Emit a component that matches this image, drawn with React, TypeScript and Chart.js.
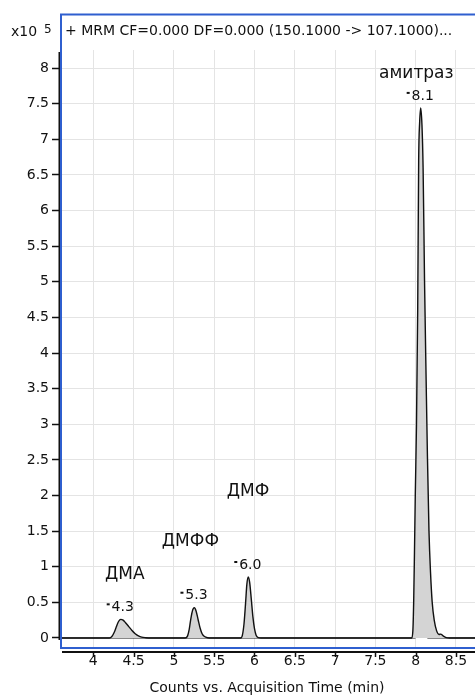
import React, { useEffect, useRef } from 'react';
import { Chart, registerables } from 'chart.js';

Chart.register(...registerables);

const FONT = "'DejaVu Sans', 'Liberation Sans', sans-serif";

// ---- axis ranges & ticks ----
const X_MIN = 3.5744;
const X_MAX = 8.736;
const Y_MIN = -0.1404;
const Y_MAX = 8.758;
const xTicks = [4, 4.5, 5, 5.5, 6, 6.5, 7, 7.5, 8, 8.5];
const yTicks = [0, 0.5, 1, 1.5, 2, 2.5, 3, 3.5, 4, 4.5, 5, 5.5, 6, 6.5, 7, 7.5, 8];

// ---- main (quantifier) trace, counts x10^5 ----
const mainTime = [
  3.57, 4.2, 4.23, 4.26, 4.29, 4.315, 4.34, 4.37, 4.4, 4.44, 4.48, 4.52, 4.56, 4.6, 4.65, 4.72,
  5.14, 5.17, 5.19, 5.21, 5.235, 5.255, 5.275, 5.3, 5.325, 5.35, 5.38, 5.42, 5.46,
  5.83, 5.85, 5.87, 5.89, 5.905, 5.923, 5.94, 5.96, 5.98, 6.0, 6.02, 6.05, 6.08,
  7.95, 7.965, 7.975, 7.985, 7.995, 8.01, 8.025, 8.037, 8.049, 8.062, 8.078, 8.092, 8.11, 8.13,
  8.145, 8.165, 8.185, 8.205, 8.23, 8.26, 8.29, 8.31, 8.34, 8.38, 8.42, 8.74,
];
const mainSignal = [
  0, 0, 0.02, 0.08, 0.17, 0.235, 0.262, 0.25, 0.215, 0.16, 0.105, 0.06, 0.03, 0.012, 0.004, 0,
  0, 0.03, 0.12, 0.27, 0.4, 0.425, 0.38, 0.26, 0.14, 0.06, 0.02, 0.003, 0,
  0, 0.04, 0.2, 0.5, 0.75, 0.856, 0.78, 0.55, 0.3, 0.13, 0.04, 0.005, 0,
  0, 0.1, 0.5, 1.2, 2.0, 3.0, 4.6, 6.7, 7.23, 7.44, 7.2, 6.6, 5.0, 3.6,
  2.6, 1.5, 0.9, 0.5, 0.25, 0.1, 0.05, 0.055, 0.03, 0.005, 0, 0,
];

// ---- qualifier trace ----
const qualTime = [3.57, 7.99, 8.01, 8.03, 8.045, 8.062, 8.08, 8.1, 8.12, 8.14, 8.17, 8.74];
const qualSignal = [0, 0, 0.02, 0.1, 0.2, 0.235, 0.2, 0.11, 0.04, 0.01, 0, 0];

// ---- peak annotations ----
const peakRT = [4.34, 5.255, 5.923, 8.062];
const peakApex = [0.262, 0.425, 0.856, 7.44];
const peakLabels = ['4.3', '5.3', '6.0', '8.1'];
const compoundNames = ['ДМА', 'ДМФФ', 'ДМФ', 'амитраз'];
const nameX = [4.39, 5.205, 5.921, 8.008];
const nameY = [0.89, 1.36, 2.05, 7.92];

const TITLE = '+ MRM CF=0.000 DF=0.000 (150.1000 -> 107.1000)...';

const framePlugin = {
  id: 'framePlugin',
  beforeDatasetsDraw(chart: any) {
    const { ctx, chartArea } = chart;
    ctx.save();
    ctx.fillStyle = '#ffffff';
    ctx.fillRect(chartArea.left + 2, 15, chart.width, 50 - 15);
    ctx.restore();
  },
  afterDatasetsDraw(chart: any) {
    const { ctx } = chart;
    const xs = chart.scales.x;
    const ys = chart.scales.y;
    ctx.save();
    ctx.fillStyle = '#111';
    ctx.textBaseline = 'middle';
    for (let i = 0; i < peakRT.length; i++) {
      const px = xs.getPixelForValue(peakRT[i]);
      const py = ys.getPixelForValue(peakApex[i]);
      ctx.fillRect(px - 14, py - 16, 3, 2);
      ctx.font = `14px ${FONT}`;
      ctx.textAlign = 'center';
      ctx.fillText(peakLabels[i], px + 2, py - 12);
      ctx.font = `17px ${FONT}`;
      ctx.fillText(compoundNames[i], xs.getPixelForValue(nameX[i]), ys.getPixelForValue(nameY[i]));
    }
    ctx.restore();
  },
  afterDraw(chart: any) {
    const { ctx, chartArea } = chart;
    const xs = chart.scales.x;
    ctx.save();
    // y axis line
    ctx.strokeStyle = '#111';
    ctx.lineWidth = 2;
    ctx.beginPath();
    ctx.moveTo(59.5, 52);
    ctx.lineTo(59.5, 640);
    ctx.stroke();
    // x axis line
    ctx.beginPath();
    ctx.moveTo(62, 652);
    ctx.lineTo(chart.width, 652);
    ctx.stroke();
    // x ticks
    ctx.lineWidth = 1.5;
    for (const v of xTicks) {
      const px = Math.round(xs.getPixelForValue(v)) + 0.5;
      ctx.beginPath();
      ctx.moveTo(px, 652);
      ctx.lineTo(px, 657);
      ctx.stroke();
    }
    // blue frame
    ctx.strokeStyle = '#2f5fcf';
    ctx.lineWidth = 2;
    ctx.beginPath();
    ctx.moveTo(chart.width + 2, 14.5);
    ctx.lineTo(61, 14.5);
    ctx.lineTo(61, 648);
    ctx.lineTo(chart.width + 2, 648);
    ctx.stroke();
    // title
    ctx.fillStyle = '#111';
    ctx.textBaseline = 'middle';
    ctx.textAlign = 'left';
    ctx.font = `14px ${FONT}`;
    ctx.fillText(TITLE, 65, 31);
    // exponent
    ctx.fillText('x10', 11, 32);
    ctx.font = `12px ${FONT}`;
    ctx.fillText('5', 44, 29.5);
    ctx.restore();
  },
};

export default function App() {
  const canvasRef = useRef<HTMLCanvasElement | null>(null);

  useEffect(() => {
    if (!canvasRef.current) return;
    const tickFont = { family: FONT, size: 14 };
    const chart = new Chart(canvasRef.current, {
      type: 'line',
      data: {
        datasets: [
          {
            data: mainTime.map((t, i) => ({ x: t, y: mainSignal[i] })),
            borderColor: '#111',
            borderWidth: 1.4,
            backgroundColor: '#d4d4d4',
            fill: 'origin',
            pointRadius: 0,
            cubicInterpolationMode: 'monotone',
          },
          {
            data: qualTime.map((t, i) => ({ x: t, y: qualSignal[i] })),
            borderColor: '#111',
            borderWidth: 1.2,
            fill: false,
            pointRadius: 0,
            cubicInterpolationMode: 'monotone',
          },
        ],
      },
      options: {
        responsive: true,
        maintainAspectRatio: false,
        animation: false,
        layout: { padding: { top: 14, left: 0, right: 0, bottom: 0 } },
        plugins: { legend: { display: false }, tooltip: { enabled: false } },
        scales: {
          x: {
            type: 'linear',
            min: X_MIN,
            max: X_MAX,
            afterBuildTicks: (s: any) => {
              s.ticks = xTicks.map((v) => ({ value: v }));
            },
            afterFit: (s: any) => {
              s.height = 47;
            },
            grid: { color: '#e4e4e4', drawTicks: false },
            border: { display: false },
            ticks: {
              padding: 5,
              font: tickFont,
              color: '#111',
              maxRotation: 0,
              autoSkip: false,
              callback: (v: any) => String(v),
            },
            title: {
              display: true,
              text: 'Counts vs. Acquisition Time (min)',
              font: { family: FONT, size: 14, lineHeight: 1 },
              padding: 0,
              color: '#111',
            },
          },
          y: {
            type: 'linear',
            min: Y_MIN,
            max: Y_MAX,
            afterBuildTicks: (s: any) => {
              s.ticks = yTicks.map((v) => ({ value: v }));
            },
            afterFit: (s: any) => {
              s.width = 59;
            },
            grid: { color: '#e4e4e4', tickColor: '#111', tickLength: 7, drawTicks: true, tickWidth: 1.5 },
            border: { display: false },
            ticks: {
              padding: 3,
              font: tickFont,
              color: '#111',
              autoSkip: false,
              callback: (v: any) => String(v),
            },
          },
        },
      },
      plugins: [framePlugin],
    } as any);
    return () => chart.destroy();
  }, []);

  return (
    <div style={{ position: 'fixed', left: 0, top: 0, width: '475px', height: '695px', background: '#fff' }}>
      <canvas ref={canvasRef} />
    </div>
  );
}
